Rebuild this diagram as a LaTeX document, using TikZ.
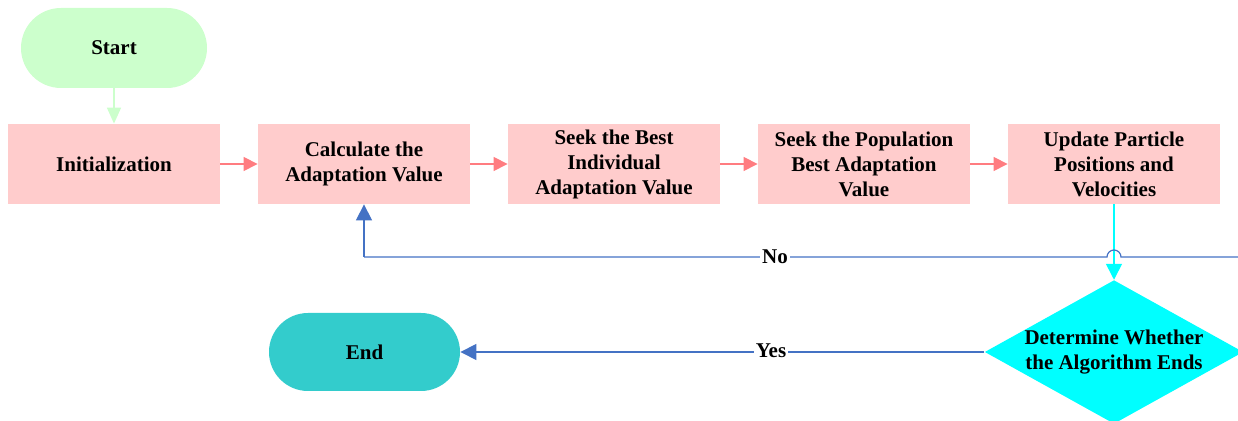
\documentclass[tikz,border=0pt]{standalone}
\usepackage{fontspec}
\setmainfont{Liberation Serif}
\usetikzlibrary{arrows.meta,shapes.geometric}
\definecolor{startg}{HTML}{CCFFCC}
\definecolor{boxp}{HTML}{FFCCCC}
\definecolor{arrr}{HTML}{FF7C80}
\definecolor{endc}{HTML}{33CCCC}
\definecolor{diac}{HTML}{00FFFF}
\definecolor{bluel}{HTML}{4472C4}
\begin{document}
\begin{tikzpicture}[x=0.5pt,y=-0.5pt,
  every node/.style={font=\fontsize{10.5}{12.5}\selectfont\bfseries, text=black, align=center},
  procbox/.style={rectangle, fill=boxp, minimum width=106pt, minimum height=40pt, inner sep=0pt},
  redarr/.style={draw=arrr, line width=0.6pt, -{Triangle[width=7pt,length=7pt]}},
  bluearr/.style={draw=bluel, line width=0.6pt, -{Triangle[width=8pt,length=8pt]}},
  lbl/.style={fill=white, inner sep=1pt}
]
\useasboundingbox (0,0) rectangle (1238,421);
\node[fill=startg, rounded corners=20pt, minimum width=93pt, minimum height=40pt, inner sep=0pt] (start) at (114,48) {Start};
\node[procbox] (init) at (114,164) {Initialization};
\node[procbox] (calc) at (364,164) {Calculate the\\Adaptation Value};
\node[procbox] (seek) at (614,164) {Seek the Best\\Individual\\Adaptation Value};
\node[procbox] (pop) at (864,164) {Seek the Population\\Best Adaptation\\Value};
\node[procbox] (upd) at (1114,164) {Update Particle\\Positions and\\Velocities};
\node[fill=endc, rounded corners=19.5pt, minimum width=95.5pt, minimum height=39pt, inner sep=0pt] (endn) at (364.5,352) {End};
\node[diamond, fill=diac, minimum width=126pt, minimum height=70pt, inner sep=0pt, aspect=1.8] (dec) at (1114,352) {Determine Whether\\the Algorithm Ends};
\coordinate (noR) at (1238,257);
\coordinate (jR) at (1121,257);
\coordinate (jL) at (1107,257);
\coordinate (noC) at (364,257);

\draw[draw=startg, line width=0.8pt, -{Triangle[width=7pt,length=8pt]}] (start.south) -- (init.north);
\draw[redarr] (init.east) -- (calc.west);
\draw[redarr] (calc.east) -- (seek.west);
\draw[redarr] (seek.east) -- (pop.west);
\draw[redarr] (pop.east) -- (upd.west);
\draw[draw=diac, line width=0.8pt, -{Triangle[width=8pt,length=8pt]}] (upd.south) -- (dec.north);
\draw[draw=bluel, line width=0.6pt] (noR) -- (jR) arc[start angle=0, end angle=-180, x radius=7, y radius=7] -- (noC);
\draw[bluearr] (noC) -- (calc.south);
\node[lbl] (nolbl) at (775,257) {No};
\draw[bluearr] (dec.west) -- (endn.east);
\node[lbl] (yeslbl) at (771,351) {Yes};
\end{tikzpicture}
\end{document}
